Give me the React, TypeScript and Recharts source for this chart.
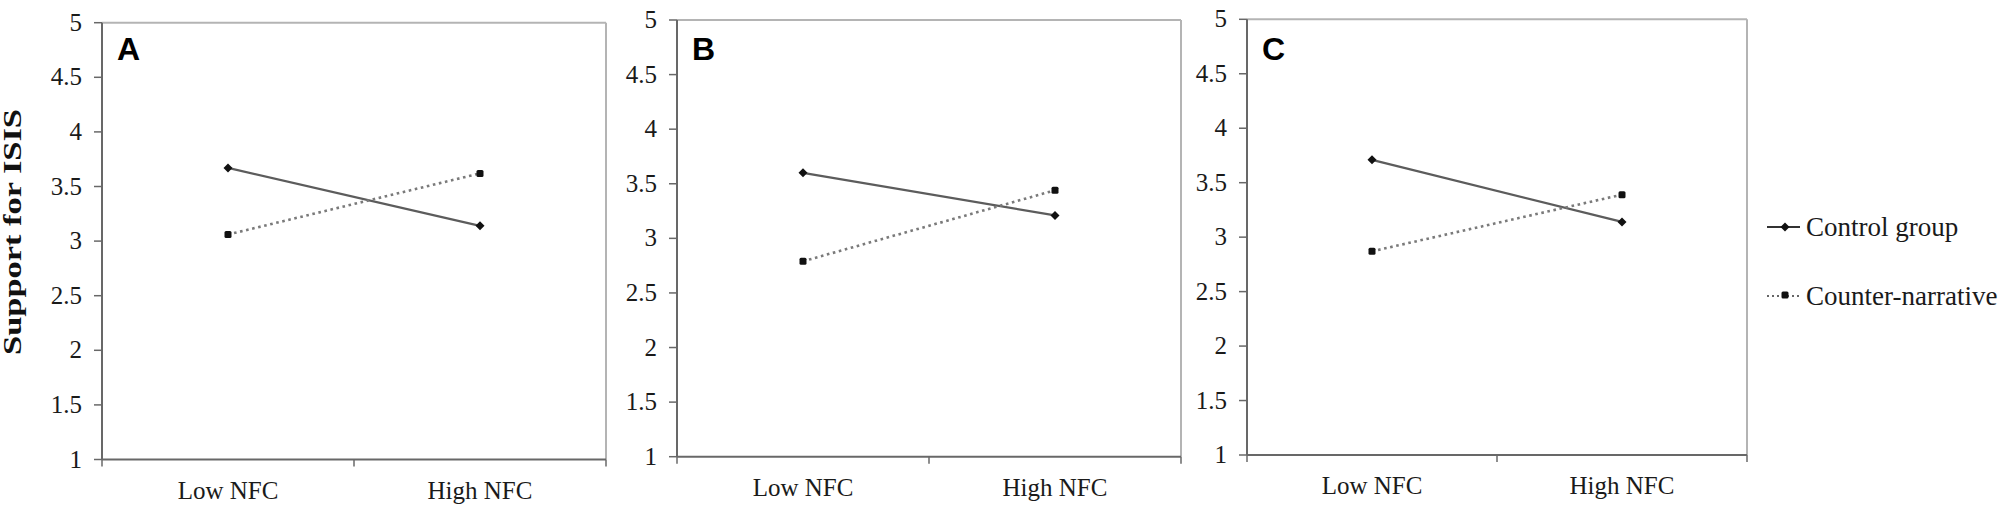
import React from "react";
import { LineChart, Line, XAxis, YAxis, ReferenceLine } from "recharts";

const categories = ["Low NFC", "High NFC"];
const yTicks = [1, 1.5, 2, 2.5, 3, 3.5, 4, 4.5, 5];
const seriesNames = ["Control group", "Counter-narrative"];

// panel A, B, C values (Low NFC, High NFC)
const controlA = [3.67, 3.14];
const counterA = [3.06, 3.62];
const controlB = [3.6, 3.21];
const counterB = [2.79, 3.44];
const controlC = [3.71, 3.14];
const counterC = [2.87, 3.39];

const H = 513;
const SERIF = "'Liberation Serif', 'Times New Roman', serif";
const SANS = "'Liberation Sans', Arial, sans-serif";
const AXIS = "#686868";
const BORDER = "#b4b4b4";
const X_AXIS_H = 54;
const Y_AXIS_W = 100;

const panels = [
  { letter: "A", control: controlA, counter: counterA, left: 102, right: 606, top: 22.7, bottom: 459.5 },
  { letter: "B", control: controlB, counter: counterB, left: 677, right: 1181, top: 20, bottom: 456.7 },
  { letter: "C", control: controlC, counter: counterC, left: 1247, right: 1747, top: 19.3, bottom: 455 },
];

const Diamond = (props: any) => {
  const { cx, cy } = props;
  if (cx == null || cy == null) return null;
  const r = 4.5;
  return <polygon points={`${cx},${cy - r} ${cx + r},${cy} ${cx},${cy + r} ${cx - r},${cy}`} fill="#111" />;
};

const Square = (props: any) => {
  const { cx, cy } = props;
  if (cx == null || cy == null) return null;
  return <rect x={cx - 3.5} y={cy - 3.5} width={7} height={7} rx={1.5} fill="#111" />;
};

const XTick = (props: any) => {
  const { x, y, payload } = props;
  const v = payload.value;
  if (Number.isInteger(v)) {
    return <line x1={x} y1={y} x2={x} y2={y + 7} stroke={AXIS} strokeWidth={1.5} />;
  }
  const label = categories[Math.floor(v)];
  return (
    <text x={x} y={y + 39} textAnchor="middle" fontFamily={SERIF} fontSize={25} fill="#1a1a1a">
      {label}
    </text>
  );
};

const YTick = (props: any) => {
  const { x, y, payload } = props;
  return (
    <text x={x} y={y + 8} textAnchor="end" fontFamily={SERIF} fontSize={25} fill="#1a1a1a">
      {String(payload.value)}
    </text>
  );
};

const Panel = ({ p }: { p: (typeof panels)[number] }) => {
  const rows = categories.map((c, i) => ({ x: i + 0.5, name: c, control: p.control[i], counter: p.counter[i] }));
  const width = p.right - p.left + Y_AXIS_W + 4;
  return (
    <div style={{ position: "absolute", left: p.left - Y_AXIS_W, top: 0 }}>
      <LineChart
        width={width}
        height={H}
        data={rows}
        margin={{ top: p.top, right: 4, bottom: H - p.bottom - X_AXIS_H, left: 0 }}
      >
        <XAxis
          type="number"
          dataKey="x"
          domain={[0, 2]}
          ticks={[0, 0.5, 1, 1.5, 2]}
          interval={0}
          tick={<XTick />}
          tickLine={false}
          tickSize={0}
          tickMargin={0}
          height={X_AXIS_H}
          axisLine={{ stroke: AXIS, strokeWidth: 2 }}
        />
        <YAxis
          type="number"
          domain={[1, 5]}
          ticks={yTicks}
          interval={0}
          width={Y_AXIS_W}
          tickSize={8}
          tickMargin={12}
          tick={<YTick />}
          tickLine={{ stroke: AXIS, strokeWidth: 1.5 }}
          axisLine={{ stroke: AXIS, strokeWidth: 2 }}
        />
        <ReferenceLine y={5} stroke={BORDER} strokeWidth={2} />
        <ReferenceLine x={2} stroke={BORDER} strokeWidth={2} />
        <Line
          type="linear"
          dataKey="control"
          stroke="#5c5c5c"
          strokeWidth={2.2}
          dot={<Diamond />}
          activeDot={false}
          isAnimationActive={false}
        />
        <Line
          type="linear"
          dataKey="counter"
          stroke="#7a7a7a"
          strokeWidth={2.6}
          strokeDasharray="2.6 3.6"
          dot={<Square />}
          activeDot={false}
          isAnimationActive={false}
        />
      </LineChart>
    </div>
  );
};

const App = () => {
  return (
    <div style={{ position: "absolute", left: 0, top: 0, width: 2001, height: H, background: "#fff", overflow: "hidden" }}>
      {panels.map((p) => (
        <Panel key={p.letter} p={p} />
      ))}
      <svg width={2001} height={H} style={{ position: "absolute", left: 0, top: 0, pointerEvents: "none" }}>
        {panels.map((p) => (
          <text key={p.letter} x={p.left + 15} y={60} fontFamily={SANS} fontWeight="bold" fontSize={32} fill="#000">
            {p.letter}
          </text>
        ))}
        <text
          x={21}
          y={232}
          transform="rotate(-90, 21, 232)"
          textAnchor="middle"
          fontFamily={SERIF}
          fontWeight="bold"
          fontSize={25}
          textLength={246}
          lengthAdjust="spacingAndGlyphs"
          fill="#111"
        >
          Support for ISIS
        </text>
        {/* legend */}
        <line x1={1767} y1={227} x2={1800} y2={227} stroke="#333" strokeWidth={2} />
        <Diamond cx={1785} cy={227} />
        <text x={1806} y={236} fontFamily={SERIF} fontSize={27} fill="#1a1a1a">
          {seriesNames[0]}
        </text>
        <line x1={1767} y1={296} x2={1800} y2={296} stroke="#666" strokeWidth={2} strokeDasharray="2 3" />
        <Square cx={1785} cy={295} />
        <text x={1806} y={305} fontFamily={SERIF} fontSize={27} fill="#1a1a1a">
          {seriesNames[1]}
        </text>
      </svg>
    </div>
  );
};

export default App;
